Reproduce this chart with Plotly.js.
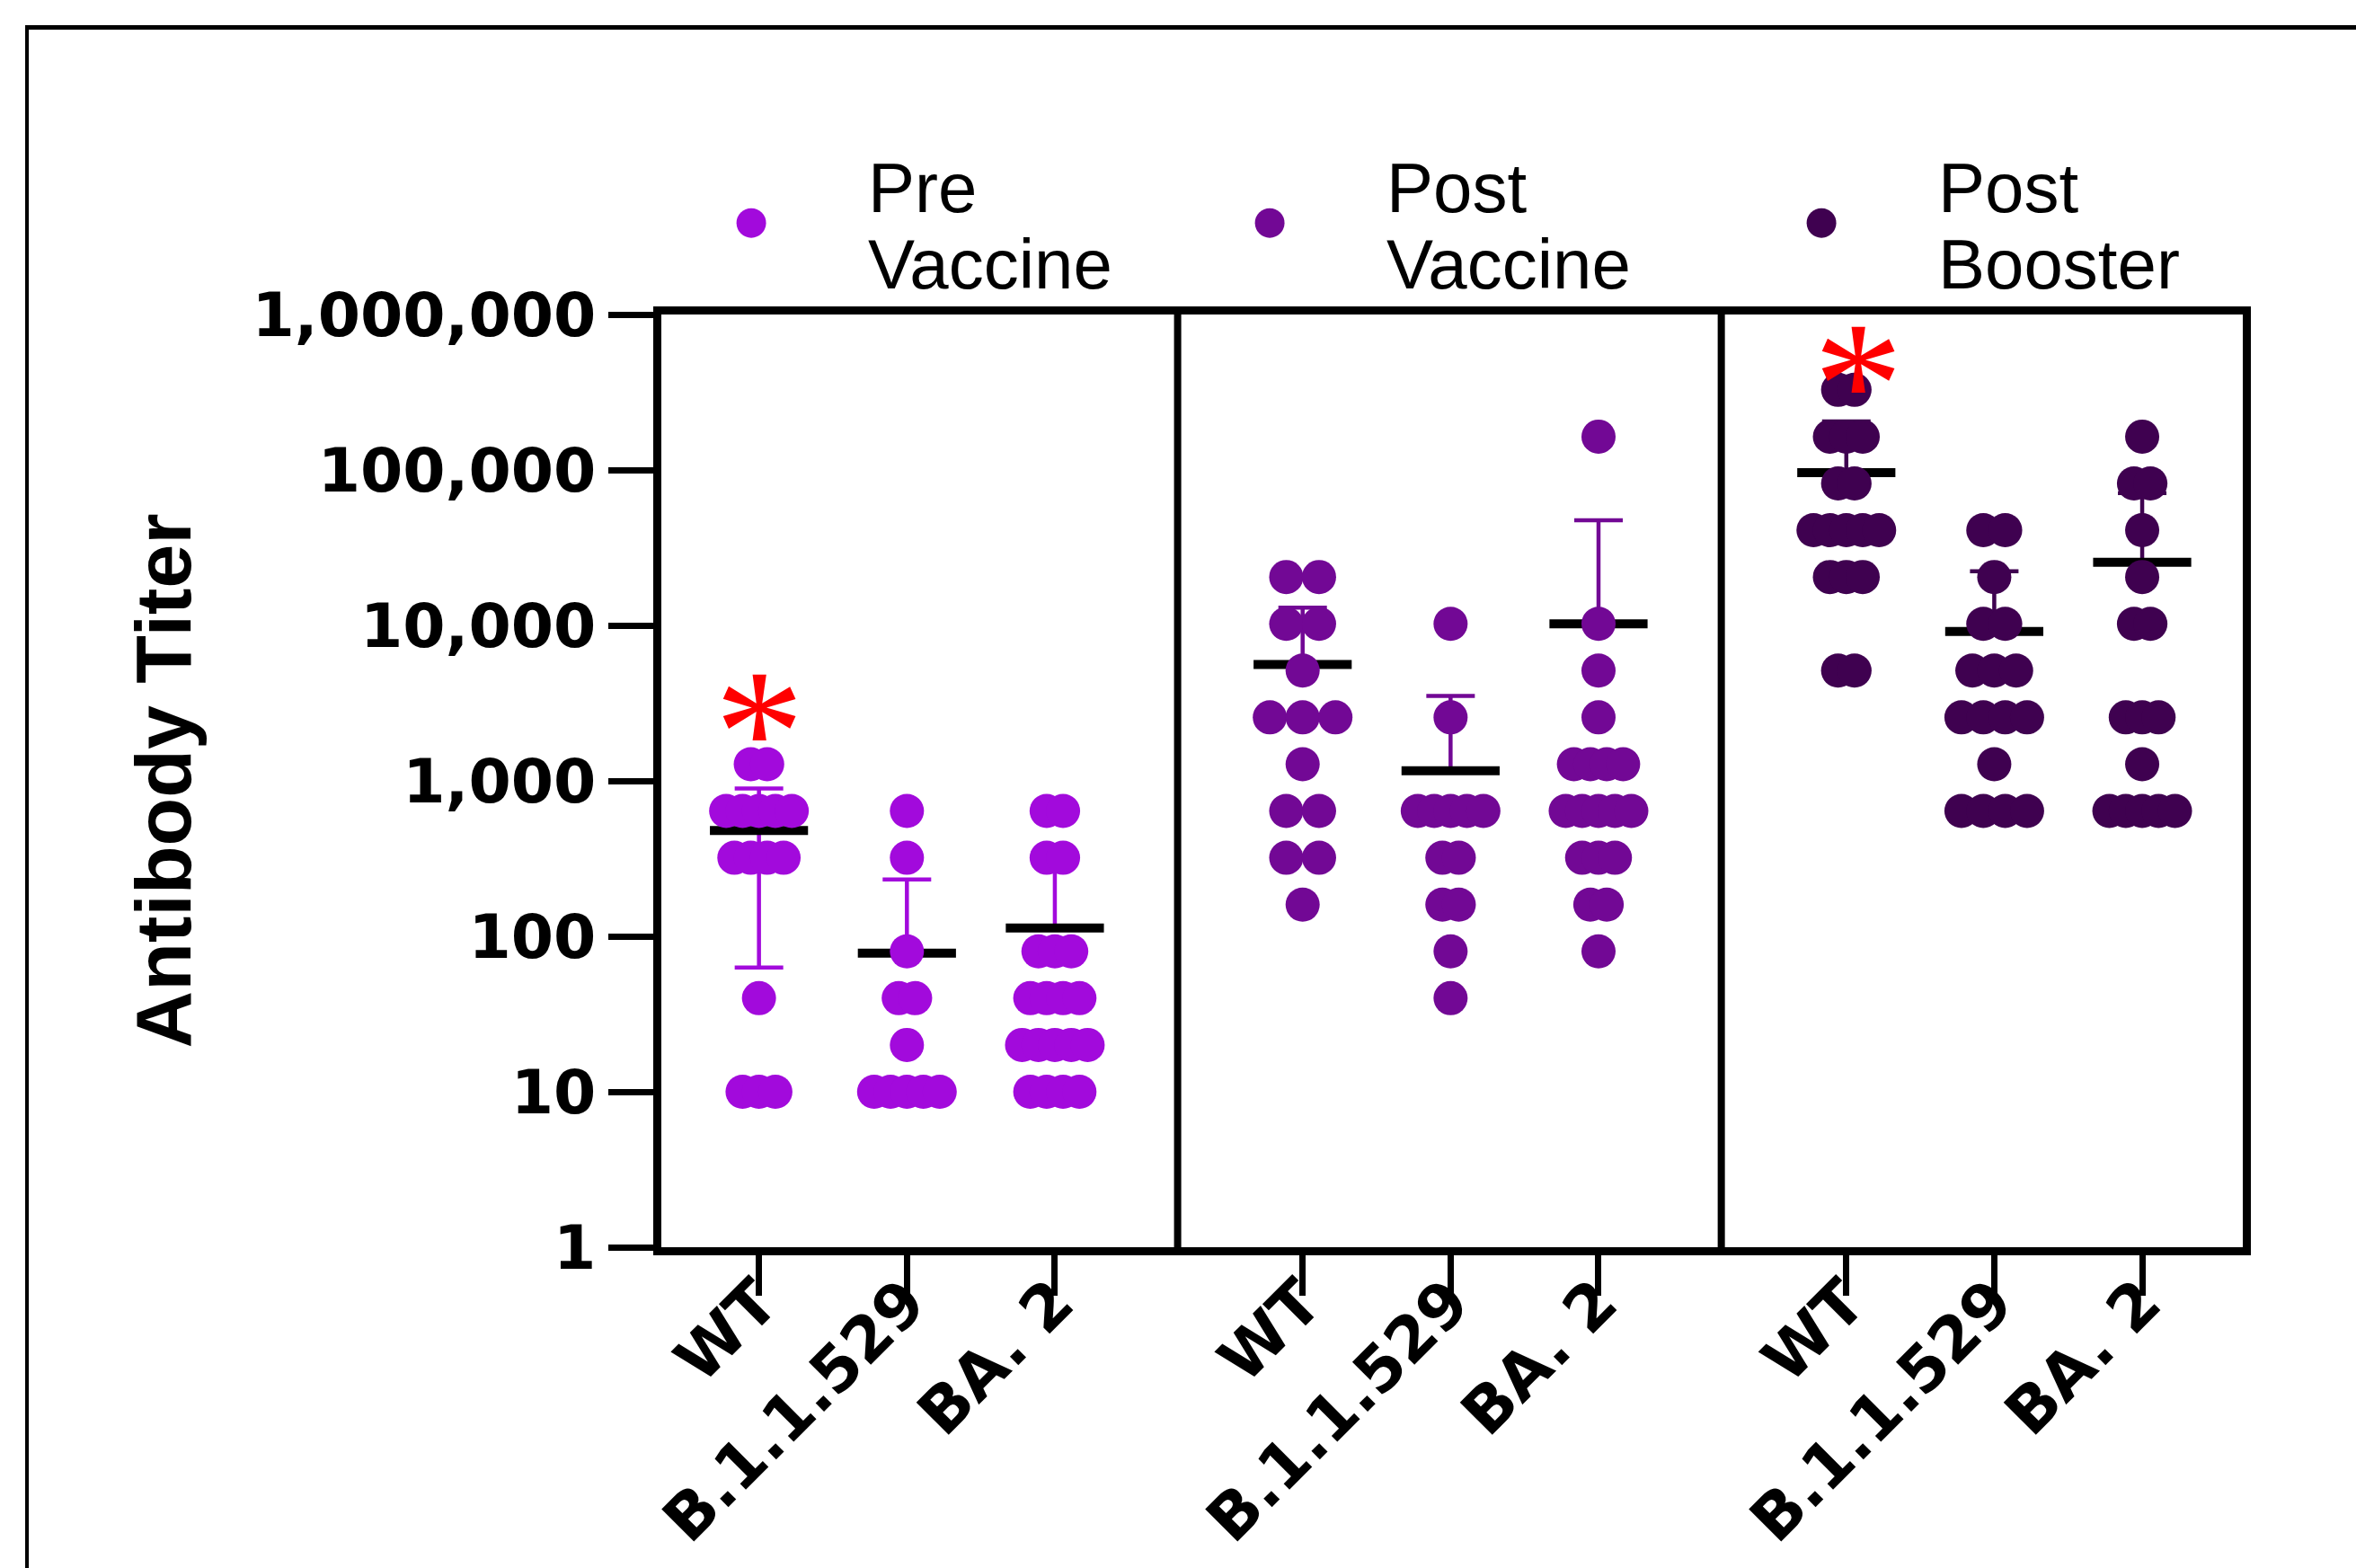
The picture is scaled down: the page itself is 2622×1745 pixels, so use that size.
<!DOCTYPE html>
<html><head><meta charset="utf-8">
<script src="https://cdn.plot.ly/plotly-3.0.1.min.js"></script>
<style>
html,body{margin:0;padding:0;background:#fff;overflow:hidden;}
#chart{position:absolute;left:0;top:0;width:2622px;height:1745px;}
#frame{position:absolute;left:28px;top:28px;width:2700px;height:1800px;border-left:4px solid #000;border-top:5px solid #000;pointer-events:none;}
</style></head><body>
<div id="chart"></div><div id="frame"></div>
<script>
// ---- categories / labels ----
const variants = ['WT', 'B.1.1.529', 'BA. 2'];
const phaseNames = ['Pre<br>Vaccine', 'Post<br>Vaccine', 'Post<br>Booster'];
const phaseColors = ['#A20ADC', '#720895', '#3F0150'];
const yTickVals = [1, 10, 100, 1000, 10000, 100000, 1000000];
const yTickText = ['1', '10', '100', '1,000', '10,000', '100,000', '1,000,000'];

// ---- individual titers ----
const preWT   = [1280,1280,640,640,640,640,640,320,320,320,320,40,10,10,10];
const preB    = [640,320,80,40,40,20,10,10,10,10,10];
const preBA2  = [640,640,320,320,80,80,80,40,40,40,40,20,20,20,20,20,10,10,10,10];
const postWT  = [20480,20480,10240,10240,5120,2560,2560,2560,1280,640,640,320,320,160];
const postB   = [10240,2560,640,640,640,640,640,320,320,160,160,80,40];
const postBA2 = [163840,10240,5120,2560,1280,1280,1280,1280,640,640,640,640,640,320,320,320,160,160,80];
const boostWT  = [327680,327680,163840,163840,163840,81920,81920,40960,40960,40960,40960,40960,20480,20480,20480,5120,5120];
const boostB   = [40960,40960,20480,10240,10240,5120,5120,5120,2560,2560,2560,2560,1280,640,640,640,640];
const boostBA2 = [163840,81920,81920,40960,20480,10240,10240,2560,2560,2560,1280,640,640,640,640,640];

// ---- group means and error-bar ends ----
const preMean   = [479, 78, 113];
const preUpper  = [893, 232, 306];
const preLower  = [63, null, null];
const postMean  = [5600, 1160, 10250];
const postUpper = [13000, 3520, 47500];
const postLower = [null, null, null];
const boostMean  = [96000, 9150, 25500];
const boostUpper = [205000, 22300, 71000];
const boostLower = [null, null, null];

// ---- significance markers ----
const sigPhase = [0, 2];
const sigVariant = [0, 0];
const sigValue = [3000, 520000];
const sigXShift = [0, 13];

// ---- assemble ----
const groups = [[preWT, preB, preBA2], [postWT, postB, postBA2], [boostWT, boostB, boostBA2]];
const means = [preMean, postMean, boostMean];
const uppers = [preUpper, postUpper, boostUpper];
const lowers = [preLower, postLower, boostLower];

// layout constants
const panelStep = 3.675;
const leftPad = 0.66, rightPad = 0.68, innerPad = 0.83;
const xRange = [-leftPad, 2 * panelStep + 2 + rightPad];
const W = 2622, H = 1745;
const M = {l: 736, r: 126, t: 350, b: 357};
const plotW = W - M.l - M.r;
const unitPx = plotW / (xRange[1] - xRange[0]);
const dotSize = 38;
const maxSpread = 73;
const legendWidths = [312, 349, 330];

function pos(p, v) { return p * panelStep + v; }

function swarm(vals, center) {
  const counts = {};
  vals.forEach(v => counts[v] = (counts[v] || 0) + 1);
  const maxn = Math.max(...Object.values(counts));
  const s = maxn > 1 ? Math.min(36.5, maxSpread / (maxn - 1)) : 0;
  const seen = {};
  return vals.map(v => {
    const n = counts[v];
    const k = seen[v] || 0; seen[v] = k + 1;
    return center + ((k - (n - 1) / 2) * s) / unitPx;
  });
}

const data = [];
for (let p = 0; p < 3; p++) {
  const xs = [0, 1, 2].map(v => pos(p, v));
  data.push({
    type: 'scatter', mode: 'markers', x: xs, y: means[p], showlegend: false, hoverinfo: 'skip',
    marker: {symbol: 'line-ew', size: 78, color: '#000', line: {width: 10, color: '#000'}},
    error_y: {
      type: 'data', symmetric: false,
      array: means[p].map((m, i) => uppers[p][i] - m),
      arrayminus: means[p].map((m, i) => lowers[p][i] == null ? 0 : m - lowers[p][i]),
      color: phaseColors[p], thickness: 4.5, width: 27
    },
    cliponaxis: false
  });
}
for (let p = 0; p < 3; p++) {
  let xs = [], ys = [];
  for (let v = 0; v < 3; v++) {
    xs = xs.concat(swarm(groups[p][v], pos(p, v)));
    ys = ys.concat(groups[p][v]);
  }
  data.push({
    type: 'scatter', mode: 'markers', x: xs, y: ys, name: phaseNames[p],
    legendwidth: legendWidths[p],
    marker: {size: dotSize, color: phaseColors[p], line: {width: 0}},
    cliponaxis: false
  });
}

const tickVals = [], tickText = [];
for (let p = 0; p < 3; p++) for (let v = 0; v < 3; v++) { tickVals.push(pos(p, v)); tickText.push(variants[v]); }

const dividers = [1, 2].map(k => ({
  type: 'line', xref: 'x', yref: 'paper', x0: (k - 1) * panelStep + 2 + innerPad, x1: (k - 1) * panelStep + 2 + innerPad,
  y0: 0, y1: 1, line: {color: '#000', width: 8}
}));

const annotations = sigPhase.map((p, i) => ({
  xref: 'x', yref: 'y', x: pos(p, sigVariant[i]), y: Math.log10(sigValue[i]),
  text: '*', showarrow: false, xanchor: 'center', yanchor: 'middle', yshift: -27, xshift: sigXShift[i],
  font: {family: 'Liberation Serif', size: 200, color: '#FF0000'}
}));

const tickFont = {family: 'DejaVu Sans', size: 68, weight: 'bold', color: '#000'};
const layout = {
  width: W, height: H, margin: {l: M.l, r: M.r, t: M.t, b: M.b, pad: 0},
  paper_bgcolor: '#fff', plot_bgcolor: '#fff',
  xaxis: {
    range: xRange, tickvals: tickVals, ticktext: tickText, tickangle: -45,
    ticks: 'outside', ticklen: 45, tickwidth: 7, tickcolor: '#000',
    showline: true, linewidth: 9, linecolor: '#000', mirror: true,
    showgrid: false, zeroline: false, ticklabelstandoff: -62,
    tickfont: {family: 'DejaVu Sans', size: 70, weight: 'bold', color: '#000'}
  },
  yaxis: {
    type: 'log', range: [0, 6], tickvals: yTickVals, ticktext: yTickText,
    ticks: 'outside', ticklen: 50, tickwidth: 7, tickcolor: '#000',
    showline: true, linewidth: 9, linecolor: '#000', mirror: true,
    showgrid: false, zeroline: false, tickfont: tickFont,
    title: {text: 'Antibody Titer', standoff: 42, font: {family: 'Liberation Sans', size: 88, weight: 'bold', color: '#000'}}
  },
  legend: {
    orientation: 'h', x: -0.017, xanchor: 'left', y: 1.098, yanchor: 'middle',
    font: {family: 'Liberation Sans', size: 78, color: '#000'},
    itemwidth: 250, entrywidthmode: 'pixels', itemsizing: 'trace',
    bgcolor: 'rgba(0,0,0,0)', valign: 'middle'
  },
  shapes: dividers,
  annotations: annotations,
  showlegend: true
};

Plotly.newPlot('chart', data, layout, {staticPlot: true}).then(gd => {
  gd.querySelectorAll('.legend .legendpoints path.scatterpts').forEach(pth => {
    const t = pth.getAttribute('transform') || '';
    pth.setAttribute('transform', t + ' scale(2.06)');
  });
  gd.querySelectorAll('.legend text.legendtext').forEach(t => {
    const lines = t.querySelectorAll('tspan.line');
    if (lines.length === 2) {
      lines[0].setAttribute('dy', '0.1em');
      lines[1].setAttribute('dy', '1.2em');
    }
  });
});
</script>
</body></html>
